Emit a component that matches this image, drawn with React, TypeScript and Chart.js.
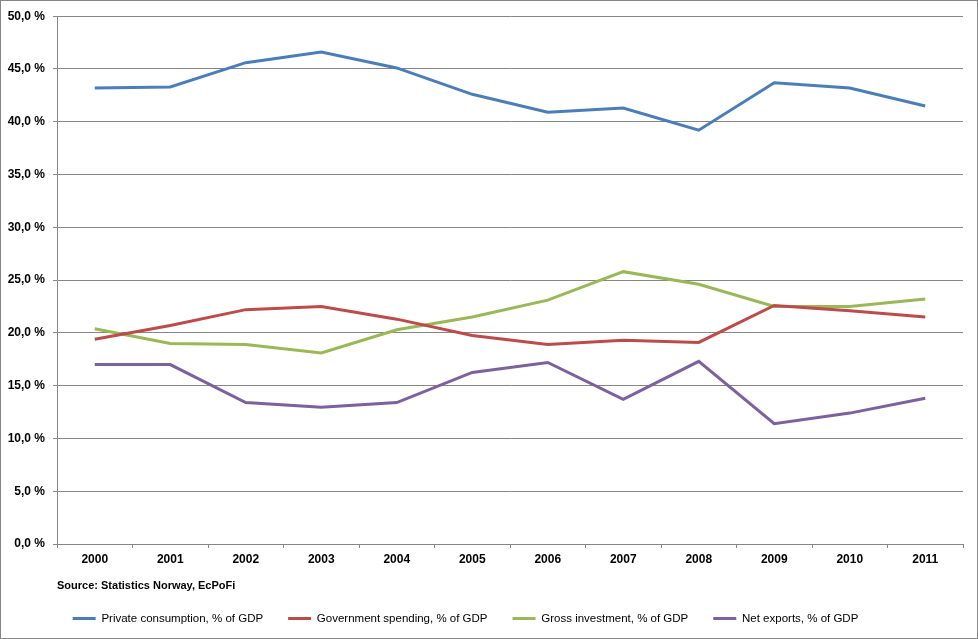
import React, { useEffect, useRef } from "react";
import { Chart, registerables } from "chart.js";

Chart.register(...registerables);

const years = ["2000", "2001", "2002", "2003", "2004", "2005", "2006", "2007", "2008", "2009", "2010", "2011"];
const privateConsumption = [43.2, 43.3, 45.6, 46.6, 45.1, 42.6, 40.9, 41.3, 39.2, 43.7, 43.2, 41.5];
const governmentSpending = [19.4, 20.7, 22.2, 22.5, 21.3, 19.75, 18.9, 19.3, 19.1, 22.6, 22.1, 21.5];
const grossInvestment = [20.4, 19.0, 18.9, 18.1, 20.3, 21.5, 23.1, 25.8, 24.6, 22.5, 22.5, 23.2];
const netExports = [17.0, 17.0, 13.4, 12.95, 13.4, 16.25, 17.2, 13.7, 17.3, 11.4, 12.4, 13.8];
const seriesNames = [
  "Private consumption, % of GDP",
  "Government spending, % of GDP",
  "Gross investment, % of GDP",
  "Net exports, % of GDP",
];
const seriesColors = ["#4A7EBB", "#BE4B48", "#98B954", "#7D60A0"];
const sourceText = "Source: Statistics Norway, EcPoFi";

const FONT = "'Liberation Sans', Arial, sans-serif";
const GRID = "#868686";
const LEGEND_PAD = 25;
const LEGEND_FONT = 11.5;

const legendPlace = {
  id: "legendPlace",
  afterLayout(chart: any) {
    const l = chart.legend;
    if (!l) return;
    const h = l.height;
    const w = l.right - l.left;
    const cx = 464.5;
    const cy = 617.5;
    l.top = cy - LEGEND_PAD - LEGEND_FONT / 2;
    l.bottom = l.top + h;
    l.left = cx - w / 2;
    l.right = cx + w / 2;
  },
};

export default function App() {
  const ref = useRef<HTMLCanvasElement | null>(null);

  useEffect(() => {
    if (!ref.current) return;
    const values = [privateConsumption, governmentSpending, grossInvestment, netExports];
    const chart = new Chart(ref.current, {
      type: "line",
      data: {
        labels: years,
        datasets: values.map((d, i) => ({
          label: seriesNames[i],
          data: d,
          borderColor: seriesColors[i],
          backgroundColor: seriesColors[i],
          borderWidth: 3,
          pointRadius: 0,
          tension: 0,
        })),
      },
      options: {
        animation: false,
        responsive: false,
        devicePixelRatio: 1,
        layout: { padding: { top: 14, right: 14, left: 0, bottom: 5.4 } },
        scales: {
          x: {
            offset: true,
            grid: {
              drawOnChartArea: false,
              tickLength: 4,
              color: GRID,
              offset: true,
            },
            border: { color: GRID, width: 1 },
            ticks: {
              color: "#000",
              padding: 4,
              font: { family: FONT, size: 12, weight: "bold" },
              maxRotation: 0,
            },
            title: {
              display: true,
              text: sourceText,
              align: "start",
              color: "#000",
              font: { family: FONT, size: 11, weight: "bold" },
              padding: { top: 12, bottom: 0 },
            },
            afterFit(scale: any) {
              scale.height = 48.6;
            },
          },
          y: {
            min: 0,
            max: 50,
            grid: { color: GRID, tickLength: 4 },
            border: { color: GRID, width: 1 },
            ticks: {
              stepSize: 5,
              color: "#000",
              padding: 8,
              font: { family: FONT, size: 12, weight: "bold" },
              callback: (v: any) => Number(v).toFixed(1).replace(".", ",") + " %",
            },
            afterFit(scale: any) {
              scale.width = 56;
            },
          },
        },
        plugins: {
          legend: {
            position: "bottom",
            maxHeight: 40,
            labels: {
              color: "#000",
              boxWidth: 23,
              boxHeight: 3,
              padding: LEGEND_PAD,
              font: { family: FONT, size: LEGEND_FONT },
              generateLabels(c: any) {
                const items = Chart.defaults.plugins.legend.labels.generateLabels(c);
                return items.map((it: any) => ({ ...it, lineWidth: 0, fillStyle: it.strokeStyle }));
              },
            },
          },
          tooltip: { enabled: false },
        },
      } as any,
      plugins: [legendPlace],
    });
    return () => chart.destroy();
  }, []);

  return (
    <div
      style={{
        position: "absolute",
        left: 0,
        top: 0,
        width: 978,
        height: 639,
        border: "1px solid #868686",
        boxSizing: "border-box",
        background: "#fff",
      }}
    >
      <canvas ref={ref} width={976} height={637} style={{ display: "block", width: 976, height: 637 }} />
    </div>
  );
}
